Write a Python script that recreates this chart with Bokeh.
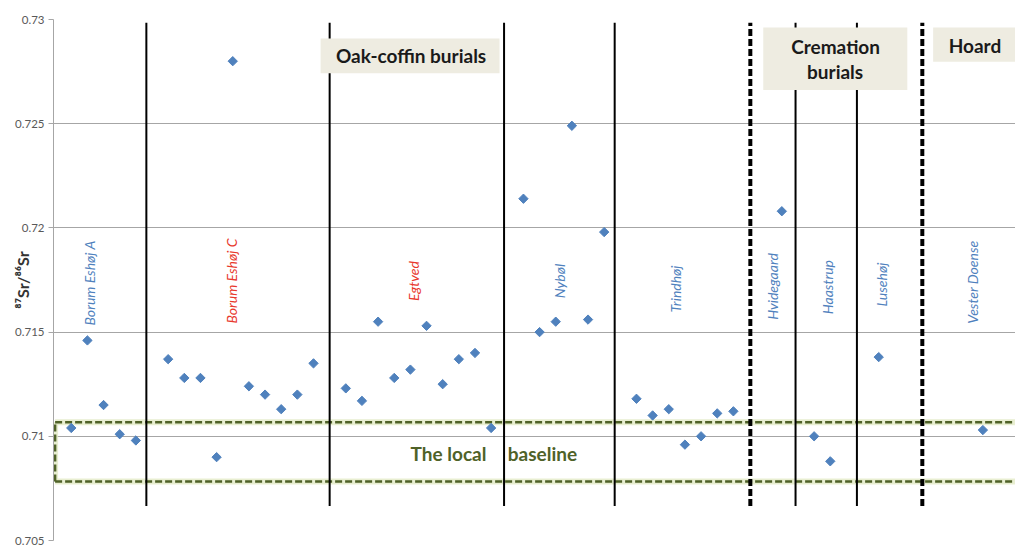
import numpy as np
from bokeh.plotting import figure
from bokeh.models import Range1d, FixedTicker
from bokeh.core.properties import value
from bokeh.embed import file_html
from bokeh.resources import INLINE

# ---------------- data ----------------
borum_a_x = [1, 2, 3, 4, 5]
borum_a_y = [0.7104, 0.7146, 0.7115, 0.7101, 0.7098]
borum_c_x = [7, 8, 9, 10, 11, 12, 13, 14, 15, 16]
borum_c_y = [0.7137, 0.7128, 0.7128, 0.7090, 0.7280, 0.7124, 0.7120, 0.7113, 0.7120, 0.7135]
egtved_x = [18, 19, 20, 21, 22, 23, 24, 25, 26, 27]
egtved_y = [0.7123, 0.7117, 0.7155, 0.7128, 0.7132, 0.7153, 0.7125, 0.7137, 0.7140, 0.7104]
nybol_x = [29, 30, 31, 32, 33, 34]
nybol_y = [0.7214, 0.7150, 0.7155, 0.7249, 0.7156, 0.7198]
trindhoj_x = [36, 37, 38, 39, 40, 41, 42]
trindhoj_y = [0.7118, 0.7110, 0.7113, 0.7096, 0.7100, 0.7111, 0.7112]
hvidegaard_x = [45]
hvidegaard_y = [0.7208]
haastrup_x = [47, 48]
haastrup_y = [0.7100, 0.7088]
lusehoj_x = [51]
lusehoj_y = [0.7138]
vester_x = [57.45]
vester_y = [0.7103]

site_names = ["Borum Eshøj A", "Borum Eshøj C", "Egtved", "Nybøl", "Trindhøj",
              "Hvidegaard", "Haastrup", "Lusehøj", "Vester Doense"]
site_label_x = [2.15, 10.93, 22.2, 31.25, 38.4, 44.4, 47.8, 51.2, 56.8]
site_label_y = [0.71736, 0.71745, 0.71745, 0.71745, 0.71707, 0.71719, 0.71716, 0.71728, 0.71740]
site_colors = ["#4f81bd", "#e8382c", "#e8382c", "#4f81bd", "#4f81bd",
               "#4f81bd", "#4f81bd", "#4f81bd", "#4f81bd"]

divider_x = [5.65, 17.0, 27.8, 34.65, 43.05, 45.85, 49.65, 53.7]
divider_dashed = [False, False, False, False, True, False, False, True]
divider_y0 = 0.70665
divider_y1 = 0.72985

baseline_low = 0.70783
baseline_high = 0.71068

group_titles = ["Oak-coffin burials", "Cremation", "burials", "Hoard"]
group_title_x = [22.04, 48.33, 48.30, 56.96]
group_title_y = [0.72825, 0.72872, 0.72750, 0.72877]
group_box_left = [16.44, 43.85, 54.37]
group_box_right = [27.52, 52.77, 61.0]
group_box_top = [0.72909, 0.72962, 0.72962]
group_box_bottom = [0.72742, 0.72662, 0.72797]

baseline_words = ["The local", "baseline"]
baseline_word_x = [24.36, 30.18]
baseline_word_y = [0.70919, 0.70919]

tick_values = [0.705, 0.71, 0.715, 0.72, 0.725, 0.73]
tick_labels = ["0.705", "0.71", "0.715", "0.72", "0.725", "0.73"]

# ---------------- figure ----------------
p = figure(width=1015, height=546, x_range=Range1d(-0.1, 59.47), y_range=Range1d(0.705, 0.73),
           output_backend="svg", toolbar_location=None,
           min_border_left=53, min_border_right=0, min_border_top=19, min_border_bottom=6)
p.outline_line_color = None
p.xaxis.visible = False
p.xgrid.visible = False
p.ygrid.grid_line_color = "#a6a6a6"
p.ygrid.grid_line_width = 1
p.yaxis.ticker = FixedTicker(ticks=tick_values)
p.yaxis.major_label_overrides = {v: l for v, l in zip(tick_values, tick_labels)}
p.yaxis.axis_line_color = "#a6a6a6"
p.yaxis.major_tick_line_color = "#a6a6a6"
p.yaxis.major_tick_out = 5
p.yaxis.major_tick_in = 0
p.yaxis.minor_tick_line_color = None
p.yaxis.major_label_text_font = "Lato"
p.yaxis.major_label_text_font_size = "11.5px"
p.yaxis.major_label_text_color = "#595959"
p.yaxis.major_label_standoff = 4
p.yaxis.axis_label = "⁸⁷Sr/⁸⁶Sr"
p.yaxis.axis_label_text_font = "Lato"
p.yaxis.axis_label_text_font_style = "bold"
p.yaxis.axis_label_text_font_size = "16px"
p.yaxis.axis_label_text_color = "#333333"
p.yaxis.axis_label_standoff = -20

# baseline band (glow + dashed outline)
bx0, bx1 = 0.0, 61.0
for col, w, dash, a in [("#e2eac6", 6, "solid", 0.8), ("#4f6228", 2.5, "7 3", 1.0)]:
    p.segment(x0=[bx0, bx0], x1=[bx1, bx1], y0=[baseline_high, baseline_low],
              y1=[baseline_high, baseline_low], line_color=col, line_width=w,
              line_dash=dash, line_alpha=a)
    p.segment(x0=[bx0], x1=[bx0], y0=[baseline_low], y1=[baseline_high],
              line_color=col, line_width=w, line_dash=dash, line_alpha=a)

# dividers
sx = [x for x, d in zip(divider_x, divider_dashed) if not d]
dx = [x for x, d in zip(divider_x, divider_dashed) if d]
p.segment(x0=sx, x1=sx, y0=[divider_y0] * len(sx), y1=[divider_y1] * len(sx),
          line_color="black", line_width=2)
p.segment(x0=dx, x1=dx, y0=[divider_y0] * len(dx), y1=[divider_y1] * len(dx),
          line_color="black", line_width=4, line_dash="7 3")

# group boxes
p.quad(left=group_box_left, right=group_box_right, top=group_box_top, bottom=group_box_bottom,
       fill_color="#eeece1", line_color=None)
p.text(x=group_title_x, y=group_title_y, text=group_titles, text_font=value("Lato"),
       text_font_style="bold", text_font_size="19px", text_color="#1a1a1a",
       text_align="center", text_baseline="middle")

# baseline label
p.text(x=baseline_word_x, y=baseline_word_y, text=baseline_words, text_font=value("Lato"),
       text_font_style="bold", text_font_size="19px", text_color="#4f6228",
       text_align="center", text_baseline="middle")

# site labels
p.text(x=site_label_x, y=site_label_y, text=site_names, angle=np.pi / 2,
       text_font=value("Lato"), text_font_style="italic", text_font_size="14px",
       text_color=site_colors, text_align="center", text_baseline="middle")

# samples
all_x = borum_a_x + borum_c_x + egtved_x + nybol_x + trindhoj_x + hvidegaard_x + haastrup_x + lusehoj_x + vester_x
all_y = borum_a_y + borum_c_y + egtved_y + nybol_y + trindhoj_y + hvidegaard_y + haastrup_y + lusehoj_y + vester_y
p.scatter(x=all_x, y=all_y, marker="square", angle=np.pi / 4, size=6.6,
          fill_color="#4f81bd", line_color="#4f81bd")

open("out.html", "w").write(file_html(p, INLINE))
